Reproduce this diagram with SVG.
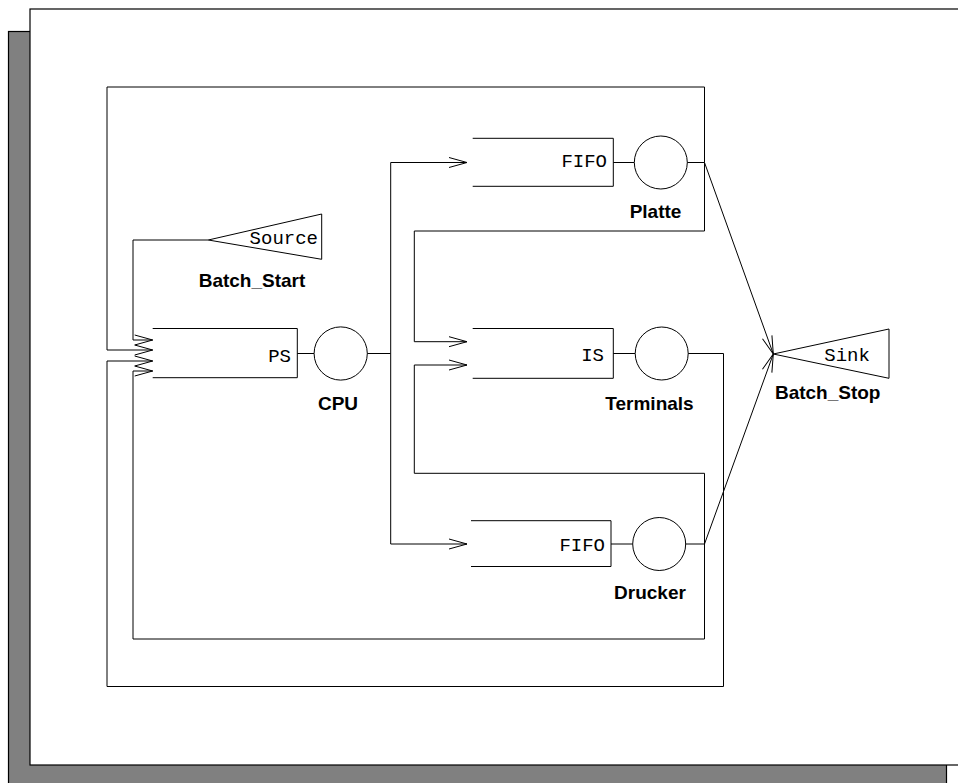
<svg xmlns="http://www.w3.org/2000/svg" width="958" height="783" viewBox="0 0 958 783">
<style>
.ln{fill:none;stroke:#000;stroke-width:1}
.arr{marker-end:url(#ah)}
.q{fill:none;stroke:#000;stroke-width:1}
.srv{fill:#fff;stroke:#000;stroke-width:1}
.mono{font-family:"Liberation Mono","Courier New",monospace;font-size:19px;fill:#000}
.lbl{font-family:"Liberation Sans",Arial,Helvetica,sans-serif;font-size:19px;font-weight:bold;fill:#000;text-anchor:middle}
</style>
<defs>
<marker id="ah" markerUnits="userSpaceOnUse" viewBox="-20 -7 21 14" markerWidth="21" markerHeight="14" refX="0" refY="0" orient="auto" overflow="visible">
<path d="M-18,-5 L0,0 L-18,5" fill="none" stroke="#000" stroke-width="1"/>
</marker>
</defs>
<g id="frame">
<rect x="8.5" y="31.5" width="938" height="770" fill="#808080" stroke="#000" stroke-width="1.2"/>
<rect x="30" y="9" width="950" height="756" fill="#fff" stroke="#000" stroke-width="1.2"/>
</g>
<g id="connectors">
<path class="ln arr" d="M208.3,240 H133 V340 H152.7"/>
<path class="ln arr" d="M704.5,162.5 V87 H107 V350 H152.7"/>
<path class="ln arr" d="M704.5,162.5 V231 H414.3 V341.7 H467"/>
<path class="ln arr" d="M704.5,162.5 L773.3,354"/>
<path class="ln" d="M367,353.5 H390.7"/>
<path class="ln arr" d="M390.7,353.5 V162.5 H467"/>
<path class="ln arr" d="M390.7,353.5 V544 H467"/>
<path class="ln arr" d="M688,353.5 H723.5 V686.5 H107 V361 H152.7"/>
<path class="ln arr" d="M704.5,544 V473.3 H414.3 V365 H467"/>
<path class="ln arr" d="M704.5,544 V639 H133 V371 H152.7"/>
<path class="ln arr" d="M704.5,544 L773.3,354"/>
</g>
<g id="Batch_Start">
<path class="q" d="M208.3,240 L321.7,214 V259.3 Z"/>
<text class="mono" x="318" y="244.3" text-anchor="end">Source</text>
<text class="lbl" x="252" y="287.3">Batch_Start</text>
</g>
<g id="CPU">
<path class="q" d="M152.7,328.5 H297.3 V377.7 H152.7"/>
<text class="mono" x="291" y="361.7" text-anchor="end">PS</text>
<path class="ln" d="M297.3,353.5 H314"/>
<circle class="srv" cx="340.7" cy="353.5" r="26.6"/>
<text class="lbl" x="338" y="410">CPU</text>
</g>
<g id="Platte">
<path class="q" d="M472.7,138.3 H613.3 V186.3 H472.7"/>
<text class="mono" x="607" y="166.7" text-anchor="end">FIFO</text>
<path class="ln" d="M613.3,162.5 H634.3"/>
<circle class="srv" cx="660.8" cy="162.5" r="26.5"/>
<path class="ln" d="M687.3,162.5 H704.5"/>
<text class="lbl" x="655.5" y="218.3">Platte</text>
</g>
<g id="Terminals">
<path class="q" d="M472.7,328.5 H613.3 V378.3 H472.7"/>
<text class="mono" x="604" y="361" text-anchor="end">IS</text>
<path class="ln" d="M613.3,353.5 H635.2"/>
<circle class="srv" cx="661.7" cy="353.5" r="26.5"/>
<text class="lbl" x="649.5" y="410">Terminals</text>
</g>
<g id="Drucker">
<path class="q" d="M471,520.7 H611 V566.5 H471"/>
<text class="mono" x="605" y="550.7" text-anchor="end">FIFO</text>
<path class="ln" d="M611,544 H632.7"/>
<circle class="srv" cx="659.2" cy="544" r="26.5"/>
<path class="ln" d="M685.7,544 H704.5"/>
<text class="lbl" x="650" y="599">Drucker</text>
</g>
<g id="Batch_Stop">
<path class="q" d="M773.3,354 L889,329 V378.3 Z"/>
<text class="mono" x="824.3" y="361">Sink</text>
<text class="lbl" x="827.7" y="399.3">Batch_Stop</text>
</g>
</svg>
